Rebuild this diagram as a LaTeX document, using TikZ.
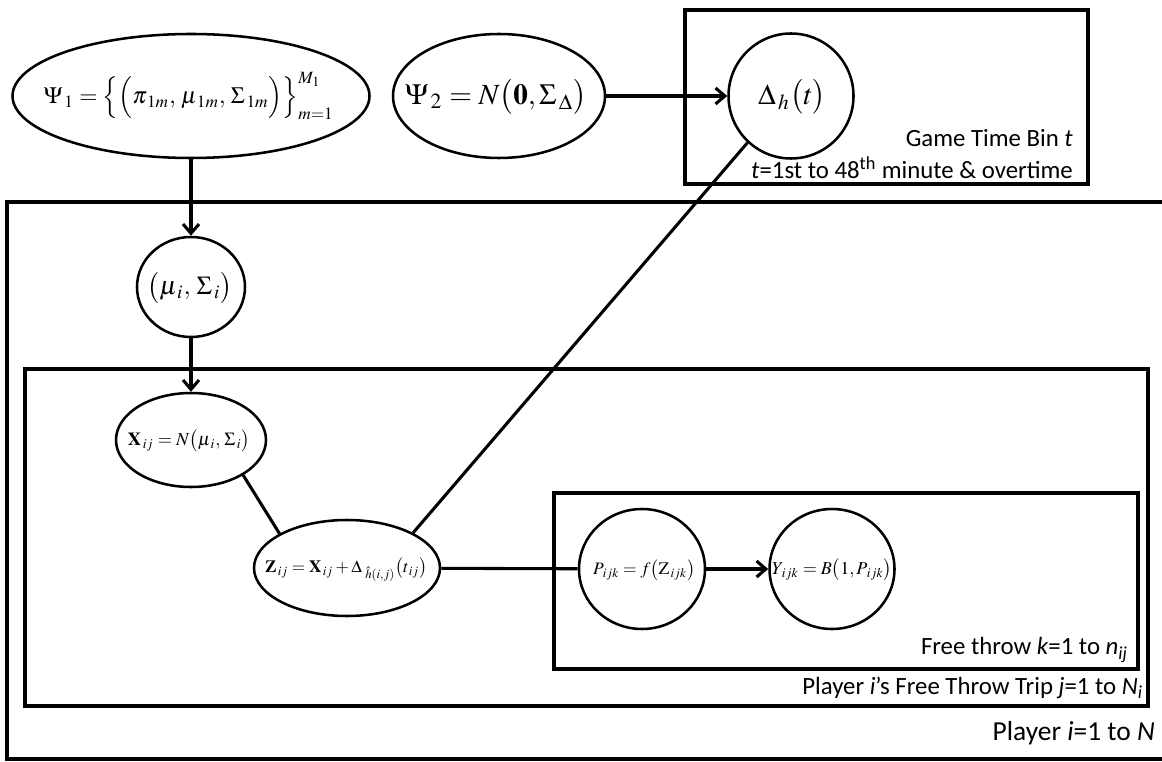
\documentclass[tikz,border=0pt]{standalone}
\usepackage{amsmath}
\usepackage{mathptmx}
\usepackage[no-math]{fontspec}
\usetikzlibrary{shapes.geometric,arrows.meta}
\newfontfamily\lblfont{Carlito}
\newlength\px \setlength\px{0.75pt}
\newcommand\fm[2]{\resizebox{#1\px}{!}{$\displaystyle #2$}}
\newcommand\subsp[1]{_{\mkern2mu #1}}
\tikzset{
  platebox/.style={draw, line width=2.6pt},
  ell/.style={draw, ellipse, line width=1.9pt, inner sep=0pt},
  mtxt/.style={inner sep=0pt},
  conn/.style={line width=2.3pt},
  arr/.style={conn, -{Straight Barb[length=7pt,width=12pt]}},
  lbl/.style={anchor=east, inner sep=0pt, font=\lblfont\fontsize{18.6}{21}\selectfont},
  biglbl/.style={anchor=east, inner sep=0pt, font=\lblfont\fontsize{20.6}{24}\selectfont},
}
\begin{document}
\begin{tikzpicture}[x=0.75pt,y=-0.75pt]
\clip (0,0) rectangle (1162,762);
\fill[white] (0,0) rectangle (1162,762);

% plates
\draw[platebox] (7,202) rectangle (1180,759);
\draw[platebox] (25,369) rectangle (1148,706);
\draw[platebox] (554,493) rectangle (1138,669);
\draw[platebox] (685,10) rectangle (1088,184);

% nodes (outlines)
\node[ell, minimum width=357\px, minimum height=124\px] (psi1) at (191,96) {};
\node[ell, minimum width=212\px, minimum height=124\px] (psi2) at (499,96) {};
\node[ell, minimum width=125\px, minimum height=125\px] (delta) at (791,96) {};
\node[ell, minimum width=108\px, minimum height=100\px] (mu) at (191,287) {};
\node[ell, minimum width=150\px, minimum height=94\px] (x) at (191,440) {};
\node[ell, minimum width=186\px, minimum height=96\px] (z) at (347,568) {};
\node[ell, minimum width=126\px, minimum height=120\px] (p) at (642,569) {};
\node[ell, minimum width=125\px, minimum height=120\px] (y) at (832,569) {};

% node texts
\node[mtxt] (psi1t) at (189,96)
  {\fm{290}{\Psi\subsp{1} = \Bigl\{\Bigl(\pi\subsp{1m},\,\mu\subsp{1m},\,\Sigma\subsp{1m}\Bigr)\Bigr\}_{m=1}^{M_1}}};
\node[mtxt] (psi2t) at (496,97)
  {\fm{182}{\Psi\subsp{2} = N\bigl(\mathbf{0},\Sigma\subsp{\Delta}\bigr)}};
\node[mtxt] (deltat) at (792,97) {\fm{68}{\Delta\subsp{h}\bigl(t\bigr)}};
\node[mtxt] (mut) at (190,288) {\fm{85}{\bigl(\mu\subsp{i},\,\Sigma\subsp{i}\bigr)}};
\node[mtxt] (xt) at (189,441)
  {\fm{122}{\mathbf{X}\subsp{ij} = N\bigl(\mu\subsp{i},\,\Sigma\subsp{i}\bigr)}};
\node[mtxt] (zt) at (346,570)
  {\fm{162}{\mathbf{Z}\subsp{ij} = \mathbf{X}\subsp{ij} + \Delta_{\mkern5mu\hat{h}(i,j)}\bigl(t\subsp{ij}\bigr)}};
\node[mtxt] (pt) at (644,570) {\fm{102}{P\subsp{ijk} = f\bigl(\mathrm{Z}\subsp{ijk}\bigr)}};
\node[mtxt] (yt) at (832,570) {\fm{120}{Y\subsp{ijk} = B\bigl(1,P\subsp{ijk}\bigr)}};

% connectors
\draw[arr] (psi1) -- (mu);
\draw[arr] (mu) -- (x);
\draw[arr] (psi2) -- (delta);
\draw[conn] (x.-34) -- (z.153);
\draw[conn] (z.28) -- (delta.227);
\draw[conn] (z) -- (p);
\draw[arr] (p) -- (y);

% plate labels
\node[lbl] (gt1) at (1073,138) {Game Time Bin \textit{t}};
\node[lbl] (gt2) at (1073,168) {\textit{t}=1st to 48\textsuperscript{th} minute \& overtime};
\node[lbl] (ft) at (1128,650) {Free throw \textit{k}=1 to \textit{n}\textsubscript{\textit{ij}}};
\node[lbl] (trip) at (1143,688) {Player \textit{i}’s Free Throw Trip \textit{j}=1 to \textit{N}\textsubscript{\textit{i}}};
\node[biglbl] (pl) at (1155,733) {Player \textit{i}=1 to \textit{N}};
\end{tikzpicture}
\end{document}
